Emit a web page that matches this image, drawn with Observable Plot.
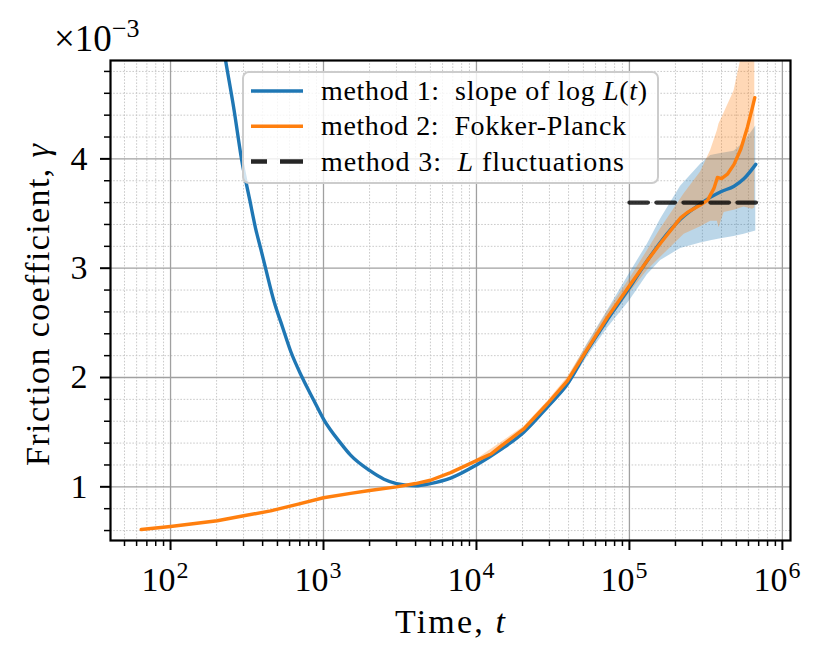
<!DOCTYPE html>
<html><head><meta charset="utf-8">
<script src="https://cdn.jsdelivr.net/npm/d3@7"></script>
<script src="https://cdn.jsdelivr.net/npm/@observablehq/plot@0.6"></script>
<style>body{margin:0;background:#fff;} #chart svg{display:block;}</style>
</head><body><div id="chart"></div>
<script>
// ---- data (gamma in units of 1e-3) ----
const m1T = [200, 229, 260, 291, 330, 359, 390, 418, 474, 540, 610, 726, 865, 1000, 1294, 1503, 2000, 2485, 3000, 4000, 5000, 6780, 10000, 14390, 20400, 29100, 39300, 53100, 71800, 100000, 131000, 160000, 216000, 292000, 340000, 396000, 483000, 562000, 670000];
const m1 = [5.40, 4.90, 4.45, 4.00, 3.62, 3.37, 3.17, 3.00, 2.70, 2.46, 2.24, 2.00, 1.79, 1.62, 1.40, 1.29, 1.15, 1.07, 1.03, 1.01, 1.03, 1.08, 1.20, 1.34, 1.50, 1.73, 1.94, 2.25, 2.53, 2.82, 3.07, 3.24, 3.45, 3.59, 3.65, 3.70, 3.75, 3.82, 3.95];

const m2T = [64.3, 100, 140, 202, 301, 451, 674, 1000, 1503, 2000, 3000, 4000, 5000, 6780, 10000, 12400, 14390, 20400, 29100, 39300, 53100, 71800, 100000, 131000, 160000, 216000, 239000, 292000, 324000, 357000, 376000, 400000, 437000, 483000, 535000, 591000, 637000, 660000];
const m2 = [0.61, 0.637, 0.662, 0.69, 0.735, 0.78, 0.84, 0.90, 0.94, 0.966, 1.0, 1.03, 1.06, 1.13, 1.24, 1.30, 1.37, 1.53, 1.76, 1.97, 2.26, 2.55, 2.84, 3.07, 3.23, 3.46, 3.51, 3.58, 3.62, 3.73, 3.83, 3.82, 3.86, 3.95, 4.09, 4.29, 4.47, 4.56];

const band1T  = [10000, 20400, 29100, 39300, 53100, 71800, 100000, 131000, 160000, 216000, 292000, 340000, 396000, 483000, 562000, 670000];
const band1Lo = [1.19, 1.48, 1.70, 1.90, 2.19, 2.45, 2.70, 2.94, 3.07, 3.18, 3.23, 3.25, 3.27, 3.29, 3.31, 3.34];
const band1Hi = [1.21, 1.52, 1.76, 1.98, 2.31, 2.61, 2.95, 3.22, 3.45, 3.75, 3.95, 4.03, 4.05, 4.07, 4.15, 4.30];

const band2T  = [10000, 20400, 29100, 39300, 53100, 71800, 100000, 131000, 160000, 228000, 292000, 340000, 376000, 385000, 416000, 483000, 562000, 637000, 660000];
const band2Lo = [1.23, 1.51, 1.74, 1.94, 2.22, 2.50, 2.77, 2.98, 3.10, 3.31, 3.38, 3.43, 3.43, 3.37, 3.51, 3.53, 3.56, 3.54, 3.55];
const band2Hi = [1.25, 1.55, 1.78, 2.00, 2.30, 2.60, 2.90, 3.16, 3.36, 3.68, 3.88, 4.08, 4.26, 4.32, 4.42, 4.62, 5.05, 5.40, 5.50];

const m3T = [100000, 700000];
const m3 = [3.6, 3.6];

const xMajor = [1e2, 1e3, 1e4, 1e5, 1e6];
const xExp = ["2", "3", "4", "5", "6"];
const xMinor = [];
for (let e = 1; e <= 5; e++) for (let m = 2; m <= 9; m++) { const v = m * Math.pow(10, e); if (v > 40.5 && v < 1.13e6) xMinor.push(v); }
const yMajor = [1, 2, 3, 4];
const yTickLabels = ["1", "2", "3", "4"];
const yMinor = [0.6, 0.8, 1.2, 1.4, 1.6, 1.8, 2.2, 2.4, 2.6, 2.8, 3.2, 3.4, 3.6, 3.8, 4.2, 4.4, 4.6, 4.8];

const legendLabels = [
  'method 1:  slope of log <tspan font-style="italic">L</tspan>(<tspan font-style="italic">t</tspan>)',
  'method 2:  Fokker-Planck',
  'method 3:  <tspan font-style="italic">L</tspan> fluctuations'
];

const BLUE = "#1f77b4", ORANGE = "#ff7f0e";
const FONT = "Liberation Serif, Times New Roman, serif";

const plot = Plot.plot({
  width: 832, height: 666,
  marginLeft: 110, marginRight: 42, marginTop: 60, marginBottom: 126,
  style: {fontFamily: FONT, fontSize: "33px", background: "white", color: "black"},
  x: {type: "log", domain: [40.5, 1.13e6]},
  y: {domain: [0.509, 4.9]},
  marks: [
    Plot.ruleX(xMinor, {stroke: "#c4c4c4", strokeWidth: 0.9, strokeDasharray: "1.6,1.6"}),
    Plot.ruleY(yMinor, {stroke: "#c4c4c4", strokeWidth: 0.9, strokeDasharray: "1.6,1.6"}),
    Plot.ruleX(xMajor, {stroke: "#a0a0a0", strokeWidth: 1.3}),
    Plot.ruleY(yMajor, {stroke: "#a0a0a0", strokeWidth: 1.3}),
    Plot.areaY(band1T, {x: band1T, y1: band1Lo, y2: band1Hi, fill: BLUE, fillOpacity: 0.3, clip: true, curve: "linear"}),
    Plot.areaY(band2T, {x: band2T, y1: band2Lo, y2: band2Hi, fill: ORANGE, fillOpacity: 0.3, clip: true, curve: "linear"}),
    Plot.line(m1T, {x: m1T, y: m1, stroke: BLUE, strokeWidth: 3.4, clip: true, curve: "monotone-x"}),
    Plot.line(m2T, {x: m2T, y: m2, stroke: ORANGE, strokeWidth: 3.4, clip: true, curve: "linear"}),
    Plot.line(m3T, {x: m3T, y: m3, stroke: "black", strokeOpacity: 0.8, strokeWidth: 4.3, strokeDasharray: "18.5,8.5"}),
    Plot.frame({stroke: "black", strokeWidth: 2.2}),
    Plot.axisX(xMinor, {tickSize: 6, strokeWidth: 1.5, tickFormat: () => "", label: null}),
    Plot.axisX(xMajor, {tickSize: 10, strokeWidth: 2, tickFormat: () => "", label: null}),
    Plot.axisY(yMinor, {tickSize: 6, strokeWidth: 1.5, tickFormat: () => "", label: null}),
    Plot.axisY(yMajor, {tickSize: 10, strokeWidth: 2, tickPadding: 13, fontSize: 34, tickFormat: (d, i) => yTickLabels[i], label: null}),
    Plot.text(xMajor, {x: d => d, text: () => "10", frameAnchor: "bottom", lineAnchor: "bottom", textAnchor: "end", dx: 5, dy: 50, fontSize: 34, fill: "black"}),
    Plot.text(xMajor, {x: d => d, text: (d, i) => xExp[i], frameAnchor: "bottom", lineAnchor: "bottom", textAnchor: "start", dx: 6, dy: 37, fontSize: 24, fill: "black"})
  ]
});

const svg = d3.select(plot);
// axis labels
svg.append("text").attr("x", 450).attr("y", 633).attr("text-anchor", "middle")
  .attr("font-size", 34).attr("font-family", FONT).attr("textLength", 110).attr("lengthAdjust", "spacing")
  .html('Time, <tspan font-style="italic">t</tspan>');
svg.append("text").attr("transform", "translate(49,305) rotate(-90)").attr("text-anchor", "middle")
  .attr("font-size", 34).attr("font-family", FONT).attr("textLength", 322).attr("lengthAdjust", "spacing")
  .html('Friction coefficient, <tspan font-style="italic">γ</tspan>');
const mult = svg.append("text").attr("x", 54).attr("y", 51).attr("text-anchor", "start")
  .attr("font-size", 37).attr("font-family", FONT);
mult.append("tspan").text("×10");
mult.append("tspan").attr("dy", -14).attr("font-size", 26).text("−3");

// legend
const lg = svg.append("g").attr("text-anchor", "start");
lg.append("rect").attr("x", 243).attr("y", 72).attr("width", 415).attr("height", 111).attr("rx", 6)
  .attr("fill", "white").attr("fill-opacity", 0.8).attr("stroke", "#cccccc").attr("stroke-width", 2);
const rowY = [100, 135.3, 170.5];
const rowW = [326, 305, 303];
const rowStroke = [BLUE, ORANGE, "black"];
rowY.forEach((y, i) => {
  const ln = lg.append("line").attr("x1", 251).attr("x2", 303).attr("y1", y - 9).attr("y2", y - 9)
    .attr("stroke", rowStroke[i]).attr("stroke-width", i === 2 ? 4.3 : 3.4);
  if (i === 2) ln.attr("stroke-dasharray", "16,13,23").attr("stroke-opacity", 0.85);
  lg.append("text").attr("x", 321).attr("y", y).attr("text-anchor", "start").attr("font-size", 28).attr("font-family", FONT)
    .attr("textLength", rowW[i]).attr("lengthAdjust", "spacing").html(legendLabels[i]);
});

document.getElementById("chart").appendChild(plot);
</script></body></html>
